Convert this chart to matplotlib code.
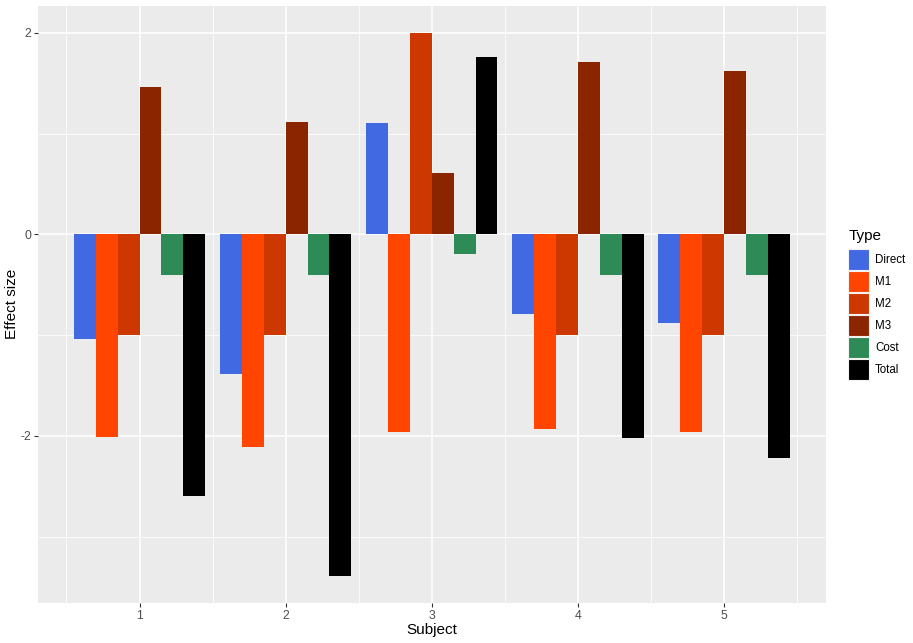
import numpy as np
import matplotlib.pyplot as plt
from matplotlib.patches import Patch

plt.rcParams['font.family'] = ['Liberation Sans', 'DejaVu Sans']
plt.rcParams['axes.unicode_minus'] = False

subjects = [1, 2, 3, 4, 5]
types = ["Direct", "M1", "M2", "M3", "Cost", "Total"]
colors = ["#4169E1", "#FF4500", "#CD3700", "#8B2500", "#2E8B57", "#000000"]

direct = [-1.04, -1.39, 1.11, -0.79, -0.88]
m1 = [-2.01, -2.11, -1.96, -1.93, -1.96]
m2 = [-1.00, -1.00, 2.00, -1.00, -1.00]
m3 = [1.46, 1.12, 0.61, 1.71, 1.62]
cost = [-0.40, -0.40, -0.20, -0.40, -0.40]
total = [-2.60, -3.39, 1.76, -2.02, -2.22]
values = [direct, m1, m2, m3, cost, total]

W, H = 913, 643
fig = plt.figure(figsize=(W / 100, H / 100), dpi=100)
left, right, top, bottom = 38, 825.5, 5.7, 603
ax = fig.add_axes([left / W, 1 - bottom / H, (right - left) / W, (bottom - top) / H])
ax.set_facecolor("#EBEBEB")

# dodge like ggplot, total width 0.9
n = len(types)
bw = 0.9 / n
x = np.array(subjects, dtype=float)
for i, (name, vals, c) in enumerate(zip(types, values, colors)):
    offs = -0.45 + bw * (i + 0.5)
    ax.bar(x + offs, vals, width=bw, color=c, label=name, zorder=3, linewidth=0)

ymin = min(min(v) for v in values)
ymax = max(max(v) for v in values)
pad = (ymax - ymin) * 0.05
ax.set_ylim(ymin - pad, ymax + pad)
xl, xr = 1 - 0.45, 5 + 0.45
ax.set_xlim(xl - (xr - xl) * 0.05, xr + (xr - xl) * 0.05)

ax.set_xticks(subjects)
ax.set_xticks([0.5, 1.5, 2.5, 3.5, 4.5, 5.5], minor=True)
ax.set_yticks([-2, 0, 2])
ax.set_yticks([-3, -1, 1], minor=True)
ax.grid(True, which="major", color="white", linewidth=1.1, zorder=0)
ax.grid(True, which="minor", color="white", linewidth=0.55, zorder=0)
ax.set_axisbelow(True)
for s in ax.spines.values():
    s.set_visible(False)
ax.tick_params(which="major", length=2.75, width=0.8, color="#333333",
               labelsize=8.8, labelcolor="#4D4D4D", pad=2)
ax.tick_params(which="minor", length=0)

ax.set_xlabel("Subject", fontsize=11)
ax.xaxis.set_label_coords(0.5, -(630 - bottom) / (bottom - top), transform=ax.transAxes)
ax.set_ylabel("Effect size", fontsize=11)
ax.yaxis.set_label_coords(-(left - 12) / (right - left), 0.5, transform=ax.transAxes)
ax.xaxis.label.set_va("center")
ax.yaxis.label.set_va("center")

handles = [Patch(facecolor=c, edgecolor="#F2F2F2", linewidth=0.8) for c in colors]
leg = fig.legend(handles, types, title="Type", loc="upper left",
                 bbox_to_anchor=(839 / W, 1 - 220 / H), frameon=False,
                 fontsize=8.3, title_fontsize=11, handlelength=1.82, handleheight=2.42,
                 labelspacing=0.1, handletextpad=0.5, borderpad=0.3)
leg._legend_box.align = "left"
leg._legend_box.sep = 4.0  # a bit more room under the title

fig.savefig("out.png", dpi=100)
